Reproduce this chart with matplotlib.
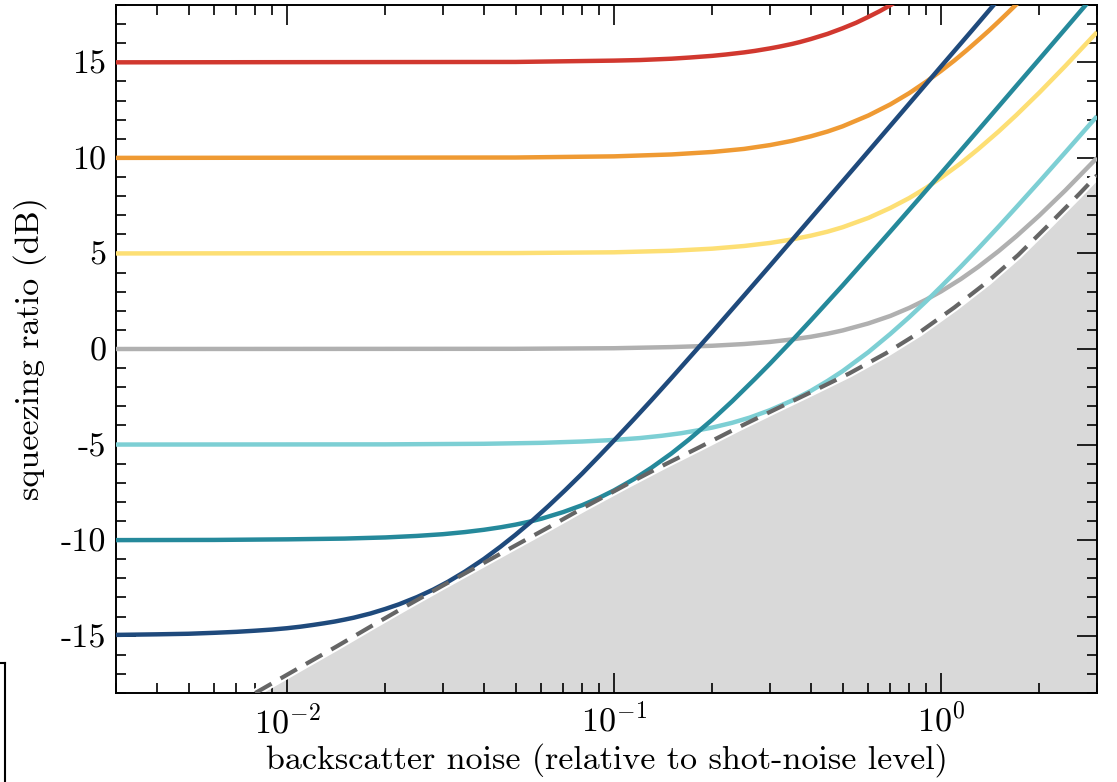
import matplotlib
matplotlib.use("Agg")
import matplotlib.pyplot as plt
from matplotlib.lines import Line2D
from matplotlib.ticker import LogLocator, MultipleLocator, NullFormatter, FixedLocator

# Computer Modern look for all text
plt.rcParams["font.family"] = "serif"
plt.rcParams["font.serif"] = ["cmr10"]
plt.rcParams["mathtext.fontset"] = "cm"
plt.rcParams["axes.formatter.use_mathtext"] = True
plt.rcParams["axes.unicode_minus"] = False
plt.rcParams["font.size"] = 24.5

# squeezing ratio (dB) vs backscatter noise, one curve per initial squeezing level
red_x = [0.003, 0.05, 0.1, 0.12, 0.15, 0.17, 0.2, 0.22, 0.25, 0.27, 0.3, 0.32, 0.35, 0.37, 0.4, 0.45,
         0.5, 0.55, 0.6, 0.65, 0.7, 0.75]
red_y = [15.00, 15.02, 15.09, 15.12, 15.19, 15.25, 15.34, 15.41, 15.52, 15.60, 15.73, 15.82, 15.96, 16.06,
         16.22, 16.49, 16.78, 17.07, 17.38, 17.68, 17.99, 18.30]

orange_x = [0.003, 0.05, 0.1, 0.15, 0.2, 0.25, 0.3, 0.35, 0.4, 0.45, 0.5, 0.6, 0.7, 0.8, 0.9, 1.0,
            1.1, 1.2, 1.3, 1.4, 1.5, 1.6, 1.7, 1.8]
orange_y = [10.00, 10.02, 10.08, 10.18, 10.31, 10.47, 10.67, 10.89, 11.13, 11.38, 11.65, 12.22, 12.80,
            13.39, 13.98, 14.55, 15.10, 15.64, 16.16, 16.65, 17.13, 17.59, 18.03, 18.45]

yellow_x = [0.003, 0.05, 0.1, 0.15, 0.2, 0.25, 0.3, 0.35, 0.4, 0.45, 0.5, 0.6, 0.7, 0.8, 0.9, 1.0,
            1.15, 1.3, 1.5, 1.7, 2.0, 2.4, 3.0]
yellow_y = [5.00, 5.02, 5.06, 5.14, 5.25, 5.39, 5.55, 5.73, 5.93, 6.14, 6.37, 6.86, 7.38, 7.90, 8.43,
            8.96, 9.72, 10.46, 11.38, 12.24, 13.42, 14.81, 16.58]

gray_x = [0.003, 0.05, 0.1, 0.15, 0.2, 0.25, 0.3, 0.35, 0.4, 0.45, 0.5, 0.6, 0.7, 0.8, 0.9, 1.0,
          1.15, 1.3, 1.5, 1.7, 2.0, 2.4, 3.0]
gray_y = [0.00, 0.01, 0.04, 0.10, 0.17, 0.26, 0.37, 0.50, 0.64, 0.80, 0.97, 1.34, 1.73, 2.15, 2.58,
          3.01, 3.66, 4.30, 5.12, 5.90, 6.99, 8.30, 10.00]

cyan_x = [0.003, 0.02, 0.04, 0.06, 0.08, 0.1, 0.12, 0.14, 0.16, 0.18, 0.2, 0.23, 0.26, 0.3, 0.35,
          0.4, 0.45, 0.5, 0.6, 0.7, 0.8, 0.9, 1.0, 1.15, 1.3, 1.5, 1.7, 2.0, 2.4, 3.0]
cyan_y = [-5.00, -4.99, -4.96, -4.91, -4.84, -4.76, -4.66, -4.54, -4.41, -4.26, -4.11, -3.86, -3.59,
          -3.20, -2.70, -2.19, -1.67, -1.16, -0.16, 0.79, 1.67, 2.49, 3.26, 4.31, 5.26, 6.40, 7.42,
          8.76, 10.29, 12.18]

teal_x = [0.003, 0.006, 0.01, 0.015, 0.02, 0.025, 0.03, 0.035, 0.04, 0.045, 0.05, 0.055, 0.06, 0.07,
          0.08, 0.09, 0.1, 0.115, 0.13, 0.15, 0.17, 0.2, 0.23, 0.27, 0.3, 0.35, 0.4, 0.5, 0.6, 0.7,
          0.85, 1.0, 1.2, 1.4, 1.7, 2.0, 2.4, 2.8]
teal_y = [-10.00, -9.99, -9.96, -9.92, -9.86, -9.78, -9.69, -9.58, -9.46, -9.33, -9.19, -9.04, -8.88,
          -8.53, -8.17, -7.79, -7.40, -6.81, -6.22, -5.46, -4.72, -3.69, -2.73, -1.56, -0.77, 0.43,
          1.50, 3.32, 4.85, 6.15, 7.80, 9.19, 10.76, 12.09, 13.77, 15.17, 16.75, 18.09]

blue_x = [0.003, 0.004, 0.005, 0.006, 0.007, 0.008, 0.009, 0.01, 0.011, 0.012, 0.013, 0.014, 0.015,
          0.016, 0.018, 0.02, 0.022, 0.025, 0.028, 0.031, 0.035, 0.04, 0.045, 0.05, 0.056, 0.063,
          0.071, 0.08, 0.09, 0.1, 0.115, 0.13, 0.15, 0.17, 0.2, 0.25, 0.3, 0.4, 0.55, 0.75, 1.0,
          1.25, 1.5]
blue_y = [-14.96, -14.93, -14.90, -14.85, -14.80, -14.74, -14.68, -14.61, -14.53, -14.44, -14.35,
          -14.26, -14.16, -14.06, -13.84, -13.60, -13.36, -12.98, -12.59, -12.19, -11.65, -10.99,
          -10.34, -9.72, -9.01, -8.22, -7.38, -6.51, -5.61, -4.79, -3.68, -2.69, -1.51, -0.46, 0.90,
          2.80, 4.36, 6.84, 9.59, 12.28, 14.78, 16.71, 18.30]

# lower bound (dashed) and the excluded region below it
bound_x = [0.008, 0.0109, 0.0141, 0.0182, 0.023, 0.0298, 0.0387, 0.049, 0.0634, 0.08, 0.109, 0.141,
           0.182, 0.24, 0.313, 0.405, 0.524, 0.679, 0.858, 1.1, 1.39, 1.72, 2.09, 2.65, 3.0]
bound_y = [-18.00, -16.68, -15.59, -14.48, -13.48, -12.40, -11.33, -10.36, -9.31, -8.34, -7.10, -6.10,
           -5.15, -4.10, -3.14, -2.22, -1.28, -0.22, 0.86, 2.18, 3.53, 4.91, 6.34, 8.12, 9.09]

ytick_vals = [-15, -10, -5, 0, 5, 10, 15]
ytick_labels = ["-15", "-10", "-5", "0", "5", "10", "15"]

curves = [
    (red_x, red_y, "#d1382f"),
    (orange_x, orange_y, "#ef9a33"),
    (yellow_x, yellow_y, "#fddf74"),
    (gray_x, gray_y, "#b0b0b0"),
    (cyan_x, cyan_y, "#7dcfd4"),
    (teal_x, teal_y, "#25899b"),
    (blue_x, blue_y, "#1f4a7c"),
]

fig = plt.figure(figsize=(11.17, 7.82), dpi=100)
ax = fig.add_axes([116 / 1117, 1 - 693 / 782, (1097 - 116) / 1117, (693 - 5) / 782])

ax.fill_between(bound_x, bound_y, -18, color="#d9d9d9", lw=0, zorder=1)
ax.plot(bound_x, bound_y, color="white", lw=6, zorder=2)

for xs, ys, c in curves:
    ax.plot(xs, ys, color=c, lw=3.2, zorder=3, solid_capstyle="butt")

ax.plot(bound_x, bound_y, color="#666666", lw=3, dashes=(4.5, 2.5), zorder=4)

ax.set_xscale("log")
ax.set_xlim(0.003, 3.0)
ax.set_ylim(-18, 18)

ax.xaxis.set_major_locator(LogLocator(base=10))
ax.xaxis.set_minor_locator(LogLocator(base=10, subs=range(2, 10)))
ax.xaxis.set_minor_formatter(NullFormatter())
ax.yaxis.set_major_locator(FixedLocator(ytick_vals))
ax.set_yticklabels(ytick_labels)
ax.yaxis.set_minor_locator(MultipleLocator(1))

ax.tick_params(which="both", direction="in", top=True, right=True, width=1.2, colors="black")
ax.tick_params(which="major", length=14.4)
ax.tick_params(which="minor", length=7.2)
ax.tick_params(axis="x", which="major", pad=7)
ax.tick_params(axis="y", which="major", pad=7)
for sp in ax.spines.values():
    sp.set_linewidth(1.4)

ax.set_xlabel("backscatter noise (relative to shot-noise level)", labelpad=3)
ax.set_ylabel("squeezing ratio (dB)", labelpad=10)

# frame corner at the lower left edge of the sheet
fig.add_artist(Line2D([0.0045, 0.0045], [0.0, 0.152], transform=fig.transFigure, color="black", lw=1.5))
fig.add_artist(Line2D([0.0, 0.0045], [0.152, 0.152], transform=fig.transFigure, color="black", lw=1.5))

fig.savefig("out.png", dpi=100)
